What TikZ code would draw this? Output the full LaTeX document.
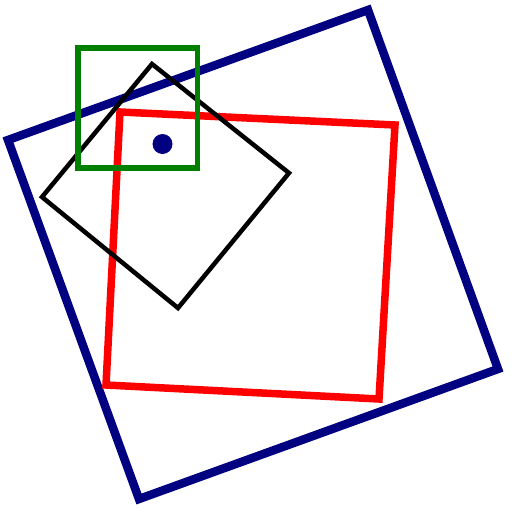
\documentclass[tikz,border=0pt]{standalone}
\usepackage{xcolor}
\usepackage{tikz}
\definecolor{SqNavy}{RGB}{0,0,128}
\definecolor{SqRed}{RGB}{255,0,0}
\definecolor{SqGreen}{RGB}{0,128,0}

\begin{document}
\begin{tikzpicture}[x=1pt, y=-1pt]
        \useasboundingbox (0,0) rectangle (512,512);

        % Large tilted square
        \draw[SqNavy, line width=8.5pt]
          (8,140)--(368,10)--(498,369)--(139,499)--cycle;

        % Red square
        \draw[SqRed, line width=7.5pt]
          (120,112)--(395,125)--(379,399)--(106,385)--cycle;

        % Black diamond
        \draw[black, line width=4.5pt]
          (152,64)--(289,173)--(178,308)--(42,197)--cycle;

        % Green frame
        \draw[SqGreen, line width=5.5pt]
          (78,48) rectangle (197.5,168);

        % Dot
        \fill[SqNavy] (162.5,144) circle (10);
      \end{tikzpicture}
\end{document}
